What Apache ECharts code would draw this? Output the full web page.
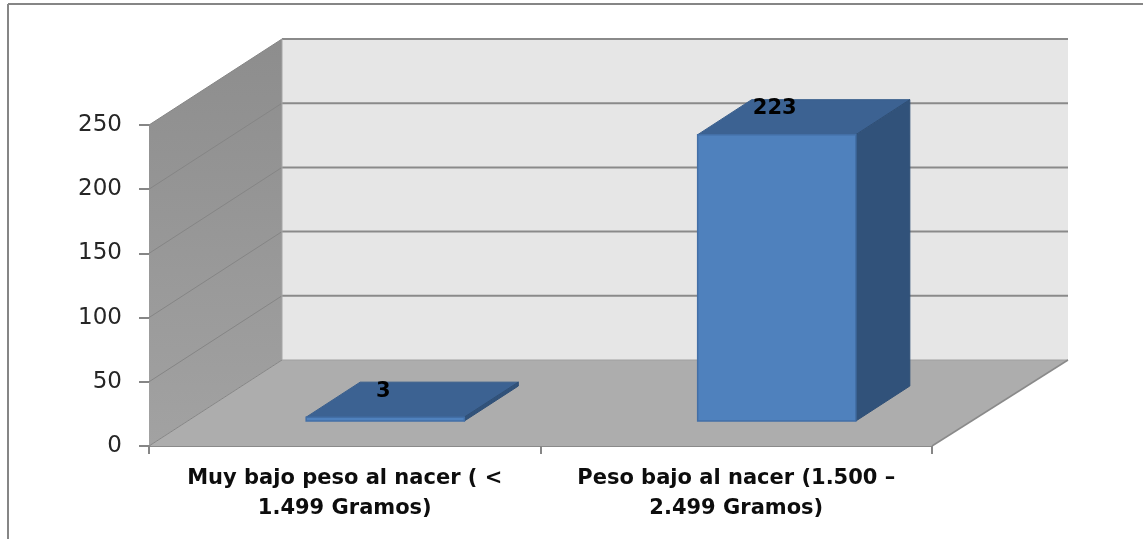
<!DOCTYPE html>
<html>
<head>
<meta charset="utf-8">
<style>
html,body{margin:0;padding:0;background:#fff}
#main{width:1143px;height:539px}
</style>
<script src="https://cdn.jsdelivr.net/npm/echarts@6/dist/echarts.min.js"></script>
</head>
<body>
<div id="main"></div>
<script>
var categories = ['Muy bajo peso al nacer ( <\n1.499 Gramos)', 'Peso bajo al nacer (1.500 –\n2.499 Gramos)'];
var values = [3, 223];
var yTicks = [0, 50, 100, 150, 200, 250];

// fake 3d: how far the back wall sits from the front plane, and the bar box
var depthX = 133, depthY = 86;
var rightDepthX = 136;
var barOffX = 40.5, barOffY = 25;
var barDepthX = 54, barDepthY = 35;
var gridColor = '#8a8a8a';

var Mychart = echarts.init(document.getElementById('main'));

function poly(points, fill, stroke, width) {
    return {
        type: 'polygon',
        shape: { points: points },
        style: { fill: fill, stroke: stroke || null, lineWidth: width || 0 }
    };
}

function line(x1, y1, x2, y2, color, width) {
    return {
        type: 'line',
        shape: { x1: x1, y1: y1, x2: x2, y2: y2 },
        style: { stroke: color, lineWidth: width }
    };
}

function renderWalls(params, api) {
    var sys = params.coordSys;
    var left = sys.x, right = sys.x + sys.width;
    var y0 = api.coord([0, 0])[1];
    var yTop = api.coord([0, yTicks[yTicks.length - 1]])[1];
    var kids = [
        poly([[left + depthX, yTop - depthY], [right + rightDepthX, yTop - depthY], [right + rightDepthX, y0 - depthY], [left + depthX, y0 - depthY]], '#e6e6e6'),
        poly([[left, yTop], [left + depthX, yTop - depthY], [left + depthX, y0 - depthY], [left, y0]], {
            type: 'linear', x: 0, y: 0, x2: 0, y2: 1,
            colorStops: [{ offset: 0, color: '#8d8d8d' }, { offset: 1, color: '#a2a2a2' }]
        }),
        poly([[left, y0], [right, y0], [right + rightDepthX, y0 - depthY], [left + depthX, y0 - depthY]], '#adadad')
    ];
    yTicks.forEach(function (t) {
        var y = api.coord([0, t])[1];
        kids.push(line(left, y, left + depthX, y - depthY, '#858585', 1));
        if (t > 0) {
            kids.push(line(left + depthX, y - depthY, right + rightDepthX, y - depthY, gridColor, 2));
        }
    });
    kids.push(line(left + depthX, y0 - depthY, right + rightDepthX, y0 - depthY, '#a0a0a0', 1));
    kids.push(line(left + depthX, yTop - depthY, left + depthX, y0 - depthY, '#a6a6a6', 1));
    kids.push(line(right, y0, right + rightDepthX, y0 - depthY, '#8a8a8a', 1.5));
    return { type: 'group', children: kids };
}

function renderBar(params, api) {
    var top = api.coord([api.value(0), api.value(1)]);
    var base = api.coord([api.value(0), 0]);
    var half = api.size([1, 0])[0] * 0.404 / 2;
    var x1 = top[0] - half + barOffX, x2 = top[0] + half + barOffX;
    var yT = top[1] - barOffY, yB = base[1] - barOffY;
    var kids = [
        poly([[x1, yT], [x2, yT], [x2 + barDepthX, yT - barDepthY], [x1 + barDepthX, yT - barDepthY]], '#3c6292', '#3a5f8d', 1),
        poly([[x2, yT], [x2 + barDepthX, yT - barDepthY], [x2 + barDepthX, yB - barDepthY], [x2, yB]], '#31527a', '#2f4f76', 1),
        poly([[x1, yT], [x2, yT], [x2, yB], [x1, yB]], '#4f81bd', '#436fa6', 1.5),
        {
            type: 'text',
            style: {
                x: (x1 + x2) / 2 - 2,
                y: yT - barDepthY + 9,
                text: String(api.value(1)),
                fill: '#000',
                font: 'bold 21px "DejaVu Sans"',
                align: 'center',
                verticalAlign: 'middle'
            }
        }
    ];
    return { type: 'group', children: kids };
}

var option = {
    backgroundColor: '#fff',
    animation: false,
    graphic: [
        { type: 'line', shape: { x1: 8, y1: 4, x2: 1143, y2: 4 }, style: { stroke: '#868686', lineWidth: 2 } },
        { type: 'line', shape: { x1: 8, y1: 4, x2: 8, y2: 539 }, style: { stroke: '#868686', lineWidth: 2 } }
    ],
    grid: { left: 149, top: 125, width: 783, height: 321 },
    xAxis: {
        type: 'category',
        data: categories,
        axisLine: { show: true, lineStyle: { color: '#8a8a8a', width: 2 } },
        axisTick: { show: true, alignWithLabel: false, length: 8, lineStyle: { color: '#868686', width: 2 } },
        axisLabel: {
            interval: 0,
            margin: 18,
            color: '#0d0d0d',
            fontFamily: 'DejaVu Sans',
            fontWeight: 'bold',
            fontSize: 21,
            lineHeight: 30
        }
    },
    yAxis: {
        type: 'value',
        min: 0,
        max: 250,
        interval: 50,
        axisLine: { show: true, lineStyle: { color: '#868686', width: 1 } },
        axisTick: { show: true, length: 10, lineStyle: { color: '#868686', width: 2 } },
        splitLine: { show: false },
        axisLabel: { margin: 27, color: '#262626', fontFamily: 'DejaVu Sans', fontSize: 23, padding: [4, 0, 0, 0] }
    },
    series: [{
        type: 'custom',
        silent: true,
        clip: false,
        z: 1,
        renderItem: renderWalls,
        data: [[0, 0]]
    }, {
        type: 'custom',
        clip: false,
        z: 3,
        renderItem: renderBar,
        encode: { x: 0, y: 1 },
        data: values.map(function (v, i) { return [i, v]; })
    }]
};
Mychart.setOption(option);
</script>
</body>
</html>
